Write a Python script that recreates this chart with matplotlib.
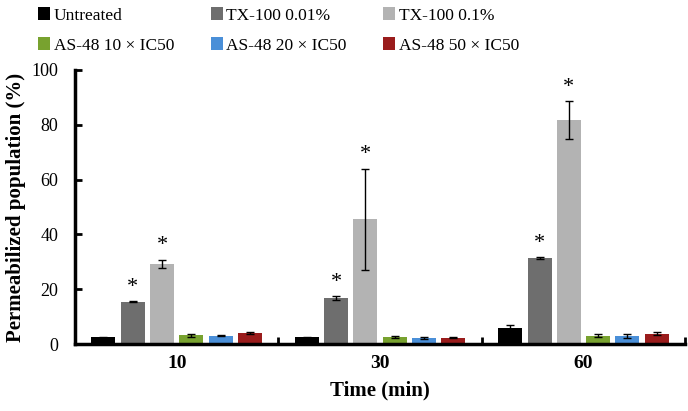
import numpy as np
import matplotlib.pyplot as plt
from matplotlib.patches import Patch

plt.rcParams['font.family'] = ['Liberation Serif', 'DejaVu Serif']

# data
times = ['10', '30', '60']
series = ['Untreated', 'TX-100 0.01%', 'TX-100 0.1%',
          'AS-48 10 × IC50', 'AS-48 20 × IC50', 'AS-48 50 × IC50']
colors = ['#000000', '#6e6e6e', '#b3b3b3', '#78a22f', '#4a8fd8', '#9a1c1c']

untreated = [2.5, 2.5, 6.0]
tx_001 = [15.5, 16.8, 31.3]
tx_01 = [29.3, 45.5, 81.7]
as48_10 = [3.2, 2.5, 3.1]
as48_20 = [3.1, 2.1, 2.9]
as48_50 = [4.1, 2.3, 3.8]

err_untreated = [0.2, 0.2, 0.8]
err_tx_001 = [0.3, 0.8, 0.3]
err_tx_01 = [1.5, 18.5, 7.0]
err_as48_10 = [0.6, 0.3, 0.4]
err_as48_20 = [0.3, 0.3, 0.6]
err_as48_50 = [0.3, 0.2, 0.6]

# significance marks: (series index, time index)
stars = [(1, 0), (2, 0), (1, 1), (2, 1), (1, 2), (2, 2)]

values = [untreated, tx_001, tx_01, as48_10, as48_20, as48_50]
errors = [err_untreated, err_tx_001, err_tx_01, err_as48_10, err_as48_20, err_as48_50]

fig = plt.figure(figsize=(6.88, 4.11), dpi=100)
ax = fig.add_axes([0.109, 0.163, 0.887, 0.667])

x = np.arange(len(times))
pitch = 0.144
width = 0.118
for i, (vals, errs) in enumerate(zip(values, errors)):
    pos = x + (i - 2.5) * pitch
    ax.bar(pos, vals, width, color=colors[i], yerr=errs,
           error_kw=dict(ecolor='black', elinewidth=1, capsize=3, capthick=1))

for i, t in stars:
    pos = x[t] + (i - 2.5) * pitch
    top = values[i][t] + errors[i][t]
    ax.annotate('*', (pos, top), xytext=(0, 3), textcoords='offset points',
                ha='center', va='bottom', fontsize=16)

ax.set_xlim(-0.5, 2.5)
ax.set_ylim(0, 100)
ax.set_yticks(np.arange(0, 101, 20))
ax.set_xticks(x)
ax.set_xticklabels(times, fontsize=14, fontweight='bold')
ax.set_xticks([0.5, 1.5, 2.5], minor=True)
ax.tick_params(axis='x', which='major', length=0, pad=8)
ax.tick_params(axis='x', which='minor', direction='in', length=5, width=2)
ax.tick_params(axis='y', direction='in', length=5, width=2, labelsize=13, pad=12)

for s in ['top', 'right']:
    ax.spines[s].set_visible(False)
for s in ['left', 'bottom']:
    ax.spines[s].set_linewidth(2.5)

ax.set_xlabel('Time (min)', fontsize=15, fontweight='bold', labelpad=6)
ax.set_ylabel('Permeabilized population (%)', fontsize=15, fontweight='bold', labelpad=4)

# legend filled row by row (matplotlib fills columns first)
order = [0, 3, 1, 4, 2, 5]
handles = [Patch(facecolor=colors[k], label=series[k]) for k in order]
fig.legend(handles=handles, loc='upper left', bbox_to_anchor=(0.033, 1.02), ncol=3,
           frameon=False, fontsize=12.5, handlelength=0.7, handleheight=0.7,
           handletextpad=0.2, columnspacing=2.1, labelspacing=0.8)

fig.savefig('out.png', dpi=100)
